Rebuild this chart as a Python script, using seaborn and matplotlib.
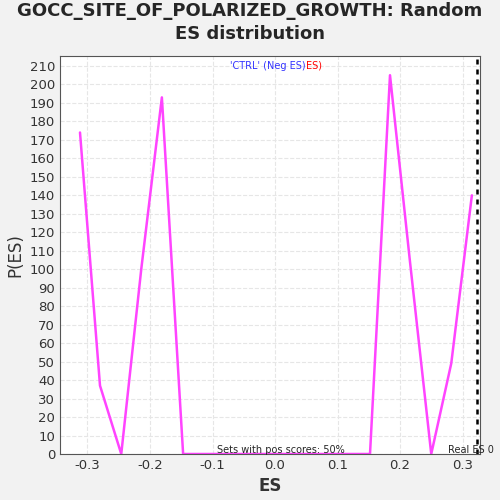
import numpy as np
import pandas as pd
import seaborn as sns
import matplotlib.pyplot as plt

es = [-0.312, -0.280, -0.246, -0.214, -0.181, -0.147, 0.152, 0.184, 0.216, 0.250, 0.282, 0.315]
p_es = [174, 37, 0, 100, 193, 0, 0, 205, 104, 0, 49, 140]
real_es = 0.323

df = pd.DataFrame({"ES": es, "P(ES)": p_es})

sns.set_style("whitegrid", {"grid.linestyle": "--", "grid.color": "#e6e6e6"})
fig = plt.figure(figsize=(5, 5), dpi=100, facecolor="#f2f2f2")
ax = fig.add_axes([0.12, 0.092, 0.84, 0.796])
sns.lineplot(data=df, x="ES", y="P(ES)", color="#ff44ff", lw=1.8, ax=ax)
ax.axvline(real_es, color="black", ls=(0, (2, 2)), lw=1.8)

ax.set_xlim(-0.344, 0.328)
ax.set_ylim(0, 215.4)
ax.set_xticks(np.arange(-0.3, 0.31, 0.1))
ax.set_xticklabels(["-0.3", "-0.2", "-0.1", "0.0", "0.1", "0.2", "0.3"])
ax.set_yticks(range(0, 211, 10))
ax.tick_params(labelsize=9.5, colors="#333333", length=0)
for s in ax.spines.values():
    s.set_color("#555555")
ax.set_xlabel("ES", fontsize=12, fontweight="bold", color="#333333")
ax.set_ylabel("P(ES)", fontsize=12, color="#333333")
fig.suptitle("GOCC_SITE_OF_POLARIZED_GROWTH: Random\nES distribution", fontsize=13,
             fontweight="bold", y=0.995, linespacing=1.3)

ax.text(0.586, 0.968, "'CTRL' (Neg ES)", color="#3333ff", fontsize=7, transform=ax.transAxes, ha="right")
ax.text(0.586, 0.968, "ES)", color="red", fontsize=7, transform=ax.transAxes, ha="left")
ax.text(0.374, 0.003, "Sets with pos scores: 50%", fontsize=7, transform=ax.transAxes)
ax.text(0.925, 0.003, "Real ES 0", fontsize=7, transform=ax.transAxes)

fig.savefig("out.png", dpi=100, facecolor=fig.get_facecolor())
